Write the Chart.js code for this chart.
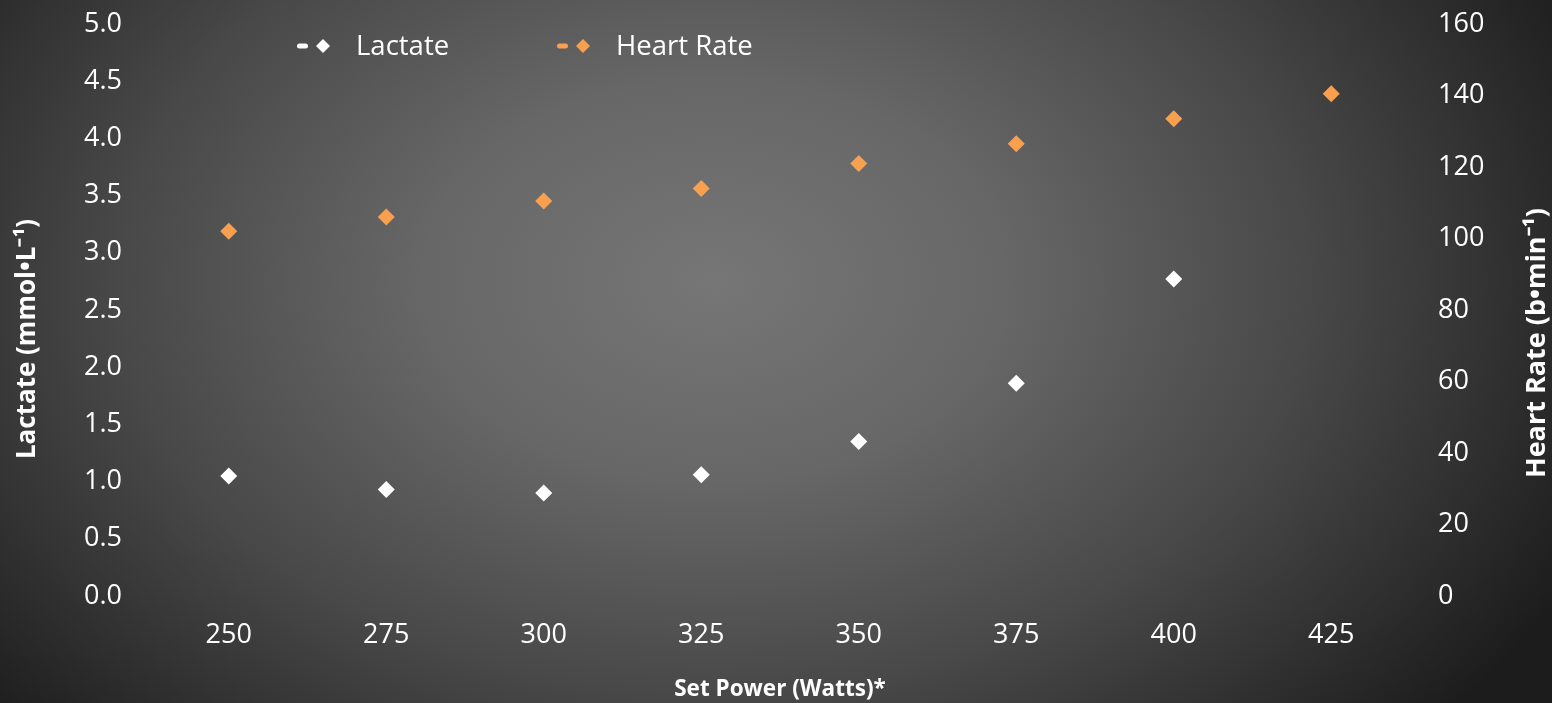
<!DOCTYPE html>
<html>
<head>
<meta charset="utf-8">
<script src="https://cdn.jsdelivr.net/npm/chart.js@4.4.1/dist/chart.umd.min.js"></script>
<style>
  html, body { margin: 0; padding: 0; }
  body {
    width: 1552px; height: 703px; overflow: hidden;
    background: radial-gradient(ellipse 62% 95% at 46% 40%, #767676 0%, #676767 30%, #484848 62%, #2a2a2a 88%, #1c1c1c 100%);
  }
  #wrap { width: 1552px; height: 703px; }
</style>
</head>
<body>
<div id="wrap"><canvas id="powerChart"></canvas></div>
<script>
const powerLabels = ['250', '275', '300', '325', '350', '375', '400', '425'];
const lactate = [1.05, 0.93, 0.90, 1.06, 1.35, 1.86, 2.77];
const heartRate = [102, 106, 110.5, 114, 121, 126.5, 133.5, 140.5];
const lactateTicks = [0, 0.5, 1, 1.5, 2, 2.5, 3, 3.5, 4, 4.5, 5];
const hrTicks = [0, 20, 40, 60, 80, 100, 120, 140, 160];

const FONT = "'Open Sans', sans-serif";
const textColor = '#ffffff';
const orange = '#f9a04e';

// legend and rotated axis titles drawn by hand (right title reads bottom-to-top)
const decor = {
  id: 'decor',
  afterDraw(chart) {
    const c = chart.ctx;
    const vTitle = (txt, x, y, size) => {
      c.save();
      c.fillStyle = textColor;
      c.font = '700 ' + size + 'px ' + FONT;
      c.textAlign = 'center';
      c.textBaseline = 'middle';
      c.translate(x, y);
      c.rotate(-Math.PI / 2);
      c.fillText(txt, 0, 0);
      c.restore();
    };
    vTitle('Lactate (mmol•L⁻¹)', 28, 339, 26);
    vTitle('Heart Rate (b•min⁻¹)', 1537, 343, 27);

    // legend
    const items = [
      { x: 297, ds: chart.data.datasets[0] },
      { x: 557, ds: chart.data.datasets[1] }
    ];
    const y = 46;
    items.forEach(it => {
      c.save();
      c.fillStyle = it.ds.pointBackgroundColor;
      c.beginPath();
      c.roundRect(it.x, y - 2.5, 11, 5, 2.5);
      c.fill();
      c.beginPath();
      c.moveTo(it.x + 26, y - 7);
      c.lineTo(it.x + 33, y);
      c.lineTo(it.x + 26, y + 7);
      c.lineTo(it.x + 19, y);
      c.closePath();
      c.fill();
      c.fillStyle = textColor;
      c.font = '27.5px ' + FONT;
      c.textAlign = 'left';
      c.textBaseline = 'middle';
      c.fillText(it.ds.label, it.x + 59, y + 1);
      c.restore();
    });
  }
};

new Chart(document.getElementById('powerChart').getContext('2d'), {
  type: 'line',
  data: {
    labels: powerLabels,
    datasets: [
      {
        label: 'Lactate',
        data: lactate,
        yAxisID: 'y',
        showLine: false,
        pointStyle: 'rectRot',
        pointRadius: 8.5,
        pointBackgroundColor: '#ffffff',
        pointBorderWidth: 0,
        borderColor: '#ffffff'
      },
      {
        label: 'Heart Rate',
        data: heartRate,
        yAxisID: 'y2',
        showLine: false,
        pointStyle: 'rectRot',
        pointRadius: 8.5,
        pointBackgroundColor: orange,
        pointBorderWidth: 0,
        borderColor: orange
      }
    ]
  },
  options: {
    responsive: true,
    maintainAspectRatio: false,
    animation: false,
    layout: { padding: { top: 24, left: 0, right: 0, bottom: 0 } },
    plugins: {
      legend: { display: false },
      tooltip: { enabled: false }
    },
    scales: {
      x: {
        offset: true,
        grid: { display: false, drawTicks: false },
        border: { display: false },
        ticks: { color: textColor, font: { family: FONT, size: 27 }, padding: 23, maxRotation: 0 },
        title: {
          display: true,
          text: 'Set Power (Watts)*',
          color: textColor,
          font: { family: FONT, size: 22.5, weight: 'bold' },
          padding: { top: 12, bottom: 0 }
        },
        afterFit: s => { s.height = 107; s.paddingLeft = 0; s.paddingRight = 0; }
      },
      y: {
        position: 'left',
        min: 0,
        max: 5,
        afterBuildTicks: s => { s.ticks = lactateTicks.map(v => ({ value: v })); },
        grid: { display: false, drawTicks: false },
        border: { display: false },
        ticks: {
          color: textColor,
          font: { family: FONT, size: 27 },
          padding: 28,
          callback: v => v.toFixed(1)
        },
        afterFit: s => { s.width = 150; s.paddingTop = 0; s.paddingBottom = 0; }
      },
      y2: {
        position: 'right',
        min: 0,
        max: 160,
        afterBuildTicks: s => { s.ticks = hrTicks.map(v => ({ value: v })); },
        grid: { display: false, drawTicks: false },
        border: { display: false },
        ticks: { color: textColor, font: { family: FONT, size: 27 }, padding: 28 },
        afterFit: s => { s.width = 142; s.paddingTop = 0; s.paddingBottom = 0; }
      }
    }
  },
  plugins: [decor]
});
</script>
</body>
</html>
